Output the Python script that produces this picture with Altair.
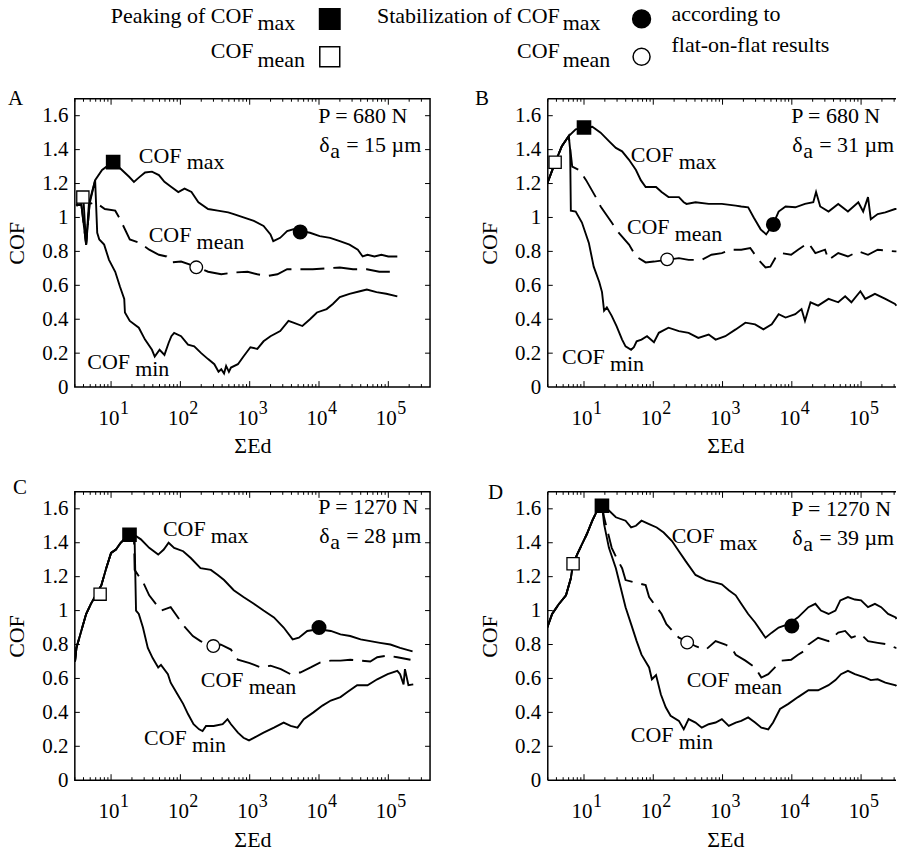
import altair as alt
import pandas as pd

FONT = "Liberation Serif"
H = 289
WIDTH = {"A": 356, "B": 350, "C": 356, "D": 350}          # right panels run into the page edge
XDOM = {"A": [3, 4e5], "B": [3, 3.3e5], "C": [3, 4e5], "D": [3, 3.3e5]}
YDOM = [0, 1.7]

# ---------------- data: x given as log10(ΣEd), y = COF ----------------
A_MAX_E = [0.50, 0.55, 0.60, 0.64, 0.68, 0.77, 0.87, 0.97, 1.04, 1.13, 1.26, 1.33, 1.40, 1.49, 1.59, 1.69, 1.77, 1.87, 1.97, 2.06, 2.16, 2.26, 2.40, 2.54, 2.69, 2.77, 2.91, 3.06, 3.20, 3.30, 3.34, 3.44, 3.54, 3.63, 3.73, 3.87, 4.01, 4.16, 4.30, 4.44, 4.56, 4.63, 4.70, 4.80, 4.90, 5.00, 5.13]
A_MAX_Y = [1.07, 1.12, 1.12, 0.84, 1.08, 1.22, 1.28, 1.31, 1.33, 1.29, 1.24, 1.21, 1.235, 1.265, 1.27, 1.25, 1.21, 1.18, 1.15, 1.17, 1.15, 1.09, 1.05, 1.04, 1.03, 1.02, 1.00, 0.98, 0.95, 0.90, 0.86, 0.88, 0.92, 0.93, 0.92, 0.91, 0.89, 0.88, 0.86, 0.84, 0.81, 0.77, 0.78, 0.77, 0.78, 0.77, 0.77]
A_MEAN_E = [0.50, 0.57, 0.64, 0.69, 0.77, 0.84, 0.91, 1.06, 1.13, 1.27, 1.41, 1.55, 1.69, 1.80, 1.87, 2.01, 2.23, 2.40, 2.59, 2.77, 2.97, 3.11, 3.26, 3.40, 3.54, 3.73, 3.91, 4.11, 4.30, 4.49, 4.69, 4.87, 5.13]
A_MEAN_Y = [1.07, 1.08, 0.84, 1.08, 1.09, 1.07, 1.05, 1.04, 0.99, 0.87, 0.85, 0.81, 0.78, 0.77, 0.735, 0.74, 0.71, 0.68, 0.665, 0.675, 0.68, 0.665, 0.655, 0.665, 0.695, 0.695, 0.695, 0.70, 0.705, 0.695, 0.695, 0.68, 0.68]
A_MIN_E = [0.50, 0.57, 0.64, 0.69, 0.77, 0.80, 0.83, 0.90, 0.97, 1.06, 1.13, 1.19, 1.20, 1.27, 1.40, 1.49, 1.59, 1.63, 1.70, 1.77, 1.83, 1.87, 1.91, 2.01, 2.11, 2.20, 2.30, 2.40, 2.49, 2.55, 2.59, 2.63, 2.66, 2.70, 2.73, 2.83, 2.91, 3.01, 3.11, 3.20, 3.30, 3.44, 3.56, 3.63, 3.76, 3.87, 3.97, 4.11, 4.20, 4.30, 4.44, 4.59, 4.69, 4.83, 4.97, 5.13]
A_MIN_Y = [1.07, 1.08, 0.84, 1.08, 1.22, 0.91, 0.87, 0.84, 0.75, 0.68, 0.59, 0.52, 0.44, 0.39, 0.35, 0.28, 0.22, 0.18, 0.22, 0.19, 0.26, 0.30, 0.32, 0.30, 0.25, 0.24, 0.20, 0.165, 0.135, 0.09, 0.105, 0.08, 0.125, 0.09, 0.115, 0.135, 0.18, 0.235, 0.225, 0.27, 0.30, 0.33, 0.39, 0.38, 0.36, 0.40, 0.44, 0.46, 0.49, 0.53, 0.55, 0.565, 0.575, 0.56, 0.55, 0.535]

B_MAX_E = [0.47, 0.58, 0.68, 0.78, 0.88, 1.00, 1.12, 1.24, 1.36, 1.46, 1.55, 1.65, 1.75, 1.82, 1.89, 2.04, 2.12, 2.22, 2.37, 2.44, 2.48, 2.61, 2.80, 2.99, 3.19, 3.27, 3.37, 3.45, 3.55, 3.63, 3.73, 3.81, 3.91, 4.05, 4.19, 4.31, 4.35, 4.41, 4.53, 4.67, 4.81, 4.96, 5.03, 5.10, 5.14, 5.24, 5.35, 5.49, 5.51]
B_MAX_Y = [1.20, 1.32, 1.42, 1.48, 1.52, 1.53, 1.535, 1.50, 1.45, 1.41, 1.39, 1.34, 1.28, 1.22, 1.18, 1.18, 1.15, 1.12, 1.12, 1.09, 1.08, 1.09, 1.08, 1.08, 1.07, 1.065, 1.06, 1.00, 0.93, 0.90, 0.96, 1.035, 1.065, 1.06, 1.08, 1.09, 1.15, 1.065, 1.035, 1.08, 1.035, 1.09, 1.035, 1.12, 0.99, 1.02, 1.03, 1.05, 1.05]
B_MEAN_E = [0.47, 0.58, 0.68, 0.78, 0.83, 0.93, 1.03, 1.17, 1.24, 1.40, 1.50, 1.65, 1.75, 1.89, 2.01, 2.19, 2.37, 2.51, 2.70, 2.84, 2.99, 3.13, 3.27, 3.40, 3.52, 3.62, 3.69, 3.76, 3.85, 3.99, 4.09, 4.24, 4.34, 4.48, 4.53, 4.67, 4.81, 4.96, 5.10, 5.24, 5.49, 5.51]
B_MEAN_Y = [1.20, 1.32, 1.42, 1.48, 1.30, 1.28, 1.22, 1.12, 1.065, 0.97, 0.91, 0.84, 0.77, 0.735, 0.74, 0.75, 0.76, 0.75, 0.75, 0.78, 0.79, 0.81, 0.81, 0.82, 0.75, 0.705, 0.71, 0.76, 0.79, 0.78, 0.81, 0.85, 0.79, 0.81, 0.75, 0.79, 0.77, 0.80, 0.78, 0.81, 0.80, 0.80]
B_MIN_E = [0.47, 0.58, 0.68, 0.78, 0.80, 0.81, 0.88, 0.97, 1.07, 1.12, 1.14, 1.22, 1.26, 1.29, 1.33, 1.40, 1.47, 1.55, 1.60, 1.68, 1.72, 1.76, 1.83, 1.91, 2.01, 2.08, 2.22, 2.37, 2.51, 2.65, 2.80, 2.90, 3.04, 3.19, 3.33, 3.47, 3.59, 3.71, 3.81, 3.91, 4.05, 4.14, 4.19, 4.27, 4.38, 4.53, 4.67, 4.77, 4.86, 4.99, 5.06, 5.20, 5.35, 5.49, 5.51]
B_MIN_Y = [1.20, 1.32, 1.42, 1.48, 1.40, 1.04, 1.035, 0.97, 0.85, 0.75, 0.71, 0.62, 0.56, 0.45, 0.47, 0.42, 0.36, 0.28, 0.24, 0.22, 0.235, 0.27, 0.28, 0.30, 0.265, 0.32, 0.35, 0.33, 0.32, 0.29, 0.31, 0.28, 0.30, 0.34, 0.38, 0.37, 0.34, 0.37, 0.43, 0.41, 0.43, 0.46, 0.39, 0.50, 0.48, 0.52, 0.50, 0.535, 0.50, 0.565, 0.52, 0.55, 0.52, 0.49, 0.48]

C_MAX_E = [0.48, 0.50, 0.57, 0.64, 0.71, 0.78, 0.86, 0.93, 1.00, 1.07, 1.14, 1.26, 1.33, 1.43, 1.55, 1.68, 1.76, 1.83, 1.91, 2.04, 2.15, 2.29, 2.44, 2.54, 2.63, 2.77, 2.91, 3.06, 3.20, 3.35, 3.49, 3.62, 3.71, 3.83, 3.99, 4.17, 4.31, 4.45, 4.60, 4.74, 4.88, 5.03, 5.17, 5.35]
C_MAX_Y = [0.70, 0.78, 0.88, 0.98, 1.04, 1.09, 1.15, 1.25, 1.34, 1.36, 1.40, 1.447, 1.447, 1.42, 1.37, 1.33, 1.36, 1.40, 1.37, 1.35, 1.31, 1.25, 1.24, 1.21, 1.18, 1.12, 1.08, 1.04, 1.00, 0.96, 0.90, 0.83, 0.84, 0.88, 0.89, 0.88, 0.86, 0.85, 0.83, 0.82, 0.81, 0.80, 0.78, 0.76]
C_MEAN_E = [0.48, 0.50, 0.57, 0.64, 0.71, 0.78, 0.86, 0.93, 1.00, 1.07, 1.14, 1.26, 1.33, 1.34, 1.47, 1.55, 1.72, 1.86, 2.05, 2.18, 2.29, 2.47, 2.58, 2.73, 2.83, 3.00, 3.16, 3.30, 3.45, 3.59, 3.69, 3.73, 3.88, 4.02, 4.17, 4.31, 4.45, 4.60, 4.74, 4.84, 4.99, 5.13, 5.32]
C_MEAN_Y = [0.70, 0.78, 0.88, 0.98, 1.04, 1.09, 1.15, 1.25, 1.34, 1.36, 1.40, 1.447, 1.447, 1.24, 1.16, 1.09, 1.00, 1.02, 0.91, 0.85, 0.82, 0.79, 0.80, 0.77, 0.71, 0.69, 0.665, 0.675, 0.655, 0.625, 0.635, 0.635, 0.665, 0.695, 0.705, 0.705, 0.71, 0.705, 0.70, 0.725, 0.735, 0.725, 0.71]
C_MIN_E = [0.48, 0.50, 0.57, 0.64, 0.71, 0.78, 0.86, 0.93, 1.00, 1.07, 1.14, 1.26, 1.33, 1.34, 1.36, 1.40, 1.46, 1.53, 1.60, 1.68, 1.72, 1.82, 1.86, 1.96, 2.04, 2.11, 2.19, 2.27, 2.32, 2.37, 2.48, 2.61, 2.68, 2.73, 2.83, 2.91, 2.99, 3.06, 3.20, 3.35, 3.49, 3.59, 3.69, 3.78, 3.92, 4.05, 4.17, 4.31, 4.41, 4.55, 4.70, 4.84, 4.99, 5.13, 5.17, 5.22, 5.24, 5.29, 5.36]
C_MIN_Y = [0.70, 0.78, 0.88, 0.98, 1.04, 1.09, 1.15, 1.25, 1.34, 1.36, 1.40, 1.447, 1.447, 1.41, 1.00, 0.98, 0.90, 0.78, 0.72, 0.665, 0.68, 0.625, 0.575, 0.505, 0.45, 0.39, 0.33, 0.30, 0.29, 0.32, 0.32, 0.33, 0.36, 0.33, 0.28, 0.25, 0.235, 0.25, 0.28, 0.31, 0.34, 0.32, 0.31, 0.36, 0.40, 0.44, 0.47, 0.49, 0.52, 0.56, 0.56, 0.595, 0.625, 0.645, 0.625, 0.565, 0.655, 0.56, 0.565]

D_MAX_E = [0.47, 0.54, 0.64, 0.74, 0.81, 0.84, 0.90, 0.97, 1.04, 1.12, 1.19, 1.26, 1.36, 1.46, 1.60, 1.68, 1.75, 1.83, 1.94, 2.05, 2.15, 2.27, 2.37, 2.47, 2.61, 2.76, 2.90, 2.99, 3.09, 3.19, 3.27, 3.37, 3.47, 3.62, 3.71, 3.81, 3.95, 4.09, 4.24, 4.34, 4.42, 4.53, 4.63, 4.70, 4.81, 4.91, 5.00, 5.10, 5.20, 5.29, 5.39, 5.50, 5.51]
D_MAX_Y = [0.90, 0.98, 1.04, 1.09, 1.19, 1.27, 1.33, 1.39, 1.45, 1.53, 1.59, 1.62, 1.59, 1.55, 1.53, 1.49, 1.50, 1.53, 1.51, 1.49, 1.46, 1.41, 1.35, 1.29, 1.21, 1.18, 1.165, 1.155, 1.12, 1.09, 1.04, 0.98, 0.93, 0.84, 0.87, 0.90, 0.92, 0.96, 1.02, 1.04, 1.00, 0.98, 1.00, 1.06, 1.08, 1.065, 1.06, 1.02, 1.04, 1.02, 0.98, 0.96, 0.95]
D_MEAN_E = [0.47, 0.54, 0.64, 0.74, 0.81, 0.84, 0.90, 0.97, 1.04, 1.12, 1.19, 1.26, 1.29, 1.40, 1.47, 1.55, 1.60, 1.89, 1.94, 2.12, 2.19, 2.37, 2.48, 2.61, 2.76, 2.90, 3.04, 3.13, 3.19, 3.33, 3.47, 3.56, 3.66, 3.78, 3.85, 3.99, 4.09, 4.21, 4.24, 4.38, 4.53, 4.67, 4.77, 4.86, 5.00, 5.10, 5.24, 5.39, 5.50, 5.51]
D_MEAN_Y = [0.90, 0.98, 1.04, 1.09, 1.19, 1.27, 1.33, 1.39, 1.45, 1.53, 1.59, 1.62, 1.55, 1.37, 1.31, 1.25, 1.18, 1.15, 1.08, 0.98, 0.92, 0.84, 0.82, 0.79, 0.77, 0.82, 0.80, 0.78, 0.74, 0.705, 0.665, 0.605, 0.625, 0.675, 0.705, 0.71, 0.74, 0.77, 0.80, 0.84, 0.82, 0.87, 0.88, 0.84, 0.86, 0.82, 0.81, 0.80, 0.78, 0.78]
D_MIN_E = [0.47, 0.54, 0.64, 0.74, 0.81, 0.84, 0.90, 0.97, 1.04, 1.12, 1.19, 1.26, 1.29, 1.36, 1.46, 1.53, 1.60, 1.68, 1.76, 1.83, 1.94, 1.98, 2.04, 2.11, 2.18, 2.25, 2.37, 2.44, 2.51, 2.61, 2.70, 2.80, 2.90, 2.99, 3.09, 3.19, 3.27, 3.37, 3.47, 3.56, 3.66, 3.73, 3.83, 3.95, 4.09, 4.24, 4.38, 4.53, 4.63, 4.71, 4.81, 4.91, 5.06, 5.14, 5.24, 5.35, 5.50, 5.51]
D_MIN_Y = [0.90, 0.98, 1.04, 1.09, 1.19, 1.27, 1.33, 1.39, 1.45, 1.53, 1.59, 1.62, 1.51, 1.37, 1.25, 1.135, 1.02, 0.92, 0.82, 0.74, 0.665, 0.595, 0.62, 0.505, 0.43, 0.38, 0.35, 0.30, 0.36, 0.34, 0.31, 0.33, 0.34, 0.36, 0.32, 0.34, 0.35, 0.37, 0.34, 0.31, 0.30, 0.34, 0.42, 0.45, 0.49, 0.53, 0.53, 0.56, 0.59, 0.625, 0.645, 0.625, 0.605, 0.59, 0.595, 0.575, 0.56, 0.555]

CURVES = {
    "A": {"max": (A_MAX_E, A_MAX_Y), "mean": (A_MEAN_E, A_MEAN_Y), "min": (A_MIN_E, A_MIN_Y)},
    "B": {"max": (B_MAX_E, B_MAX_Y), "mean": (B_MEAN_E, B_MEAN_Y), "min": (B_MIN_E, B_MIN_Y)},
    "C": {"max": (C_MAX_E, C_MAX_Y), "mean": (C_MEAN_E, C_MEAN_Y), "min": (C_MIN_E, C_MIN_Y)},
    "D": {"max": (D_MAX_E, D_MAX_Y), "mean": (D_MEAN_E, D_MEAN_Y), "min": (D_MIN_E, D_MIN_Y)},
}

# marker points (log10 ΣEd, COF)
MARKERS = {
    "A": {"peak_max": (1.03, 1.326), "peak_mean": (0.593, 1.12), "stab_max": (3.729, 0.915), "stab_mean": (2.229, 0.706)},
    "B": {"peak_max": (1.00, 1.53), "peak_mean": (0.583, 1.326), "stab_max": (3.734, 0.959), "stab_mean": (2.20, 0.753)},
    "C": {"peak_max": (1.266, 1.447), "peak_mean": (0.842, 1.097), "stab_max": (4.00, 0.90), "stab_mean": (2.475, 0.791)},
    "D": {"peak_max": (1.259, 1.618), "peak_mean": (0.842, 1.276), "stab_max": (4.00, 0.909), "stab_mean": (2.489, 0.812)},
}

# curve labels (log10 ΣEd, COF) of the "COF" word's baseline start
LABELS = {
    "A": {"max": (1.40, 1.324), "mean": (1.543, 0.853), "min": (0.657, 0.106)},
    "B": {"max": (1.676, 1.329), "mean": (1.619, 0.90), "min": (0.683, 0.135)},
    "C": {"max": (1.748, 1.441), "mean": (2.295, 0.547), "min": (1.475, 0.206)},
    "D": {"max": (2.266, 1.40), "mean": (2.482, 0.547), "min": (1.676, 0.224)},
}

LOADS = {"A": "P = 680 N", "B": "P = 680 N", "C": "P = 1270 N", "D": "P = 1270 N"}
DEPTHS = {"A": "= 15 µm", "B": "= 31 µm", "C": "= 28 µm", "D": "= 39 µm"}
EXPONENTS = ["1", "2", "3", "4", "5"]
YTICKS = [0, 0.2, 0.4, 0.6, 0.8, 1, 1.2, 1.4, 1.6]

# ---------------- layout / style constants ----------------
LETTER_POS = {"A": (-67, 6), "B": (-73, 6), "C": (-62, 2), "D": (-60, 7)}
P_BASE = {"A": 24, "B": 24, "C": 22, "D": 24}
LW = 1.9

ys = alt.Scale(domain=YDOM, nice=False, zero=False)

x_axis = alt.Axis(values=[10, 100, 1000, 10000, 100000], labelExpr="'10'",
                  labelAlign="right", labelOffset=8, labelBaseline="alphabetic",
                  labelPadding=37, ticks=False, tickSize=0, domain=False, grid=False,
                  labelFont=FONT, labelFontSize=21, labelColor="black",
                  labelOverlap=False, labelFlush=False,
                  title="ΣEd", titleFont=FONT, titleFontSize=22, titleFontWeight="normal",
                  titleColor="black", titleX=178, titleY=66, titleBaseline="alphabetic",
                  titleAlign="center")
y_axis = alt.Axis(values=YTICKS, format="~g", ticks=False, tickSize=0, domain=False,
                  grid=False, labelPadding=7, labelFont=FONT, labelFontSize=21,
                  labelColor="black", labelOverlap=False, labelFlush=False,
                  title="COF", titleFont=FONT, titleFontSize=22, titleFontWeight="normal",
                  titleColor="black", titleX=-51, titleY=H / 2, titleAngle=270,
                  titleBaseline="alphabetic", titleAlign="center")

# ---------------- tables ----------------
line_rows = []
for p, curves in CURVES.items():
    for name, (es, yv) in curves.items():
        for i, (e, y) in enumerate(zip(es, yv)):
            line_rows.append({"panel": p, "curve": name, "order": i, "x": 10 ** e, "y": y})
lines_df = pd.DataFrame(line_rows)

marker_rows = []
for p, d in MARKERS.items():
    for kind, (e, y) in d.items():
        marker_rows.append({"panel": p, "kind": kind, "x": 10 ** e, "y": y})
markers_df = pd.DataFrame(marker_rows)

label_rows = []
for p, d in LABELS.items():
    for name, (e, y) in d.items():
        label_rows.append({"panel": p, "main": "COF", "sub": name, "x": 10 ** e, "y": y})
labels_df = pd.DataFrame(label_rows)

minor = [m * 10 ** k for k in range(0, 6) for m in range(2, 10) if 3 <= m * 10 ** k <= 3.3e5]
major = [10 ** k for k in range(1, 6)]
minor_df = pd.DataFrame({"x": minor})
major_df = pd.DataFrame({"x": major, "e": EXPONENTS})
ytick_df = pd.DataFrame({"y": YTICKS[1:]})
one = pd.DataFrame({"d": [0]})


def txt(text, x, y, align="left", size=22):
    return alt.Chart(pd.DataFrame({"t": [text]})).mark_text(
        font=FONT, fontSize=size, align=align, baseline="alphabetic", color="black"
    ).encode(x=alt.value(x), y=alt.value(y), text="t:N")


def edge(x, x2, y, y2):
    return alt.Chart(one).mark_rule(color="black", strokeWidth=1.5).encode(
        x=alt.value(x), x2=alt.value(x2), y=alt.value(y), y2=alt.value(y2))


def panel(p):
    W = WIDTH[p]
    xs = alt.Scale(type="log", domain=XDOM[p], nice=False)
    X = lambda: alt.X("x:Q", scale=xs, axis=x_axis)
    Y = lambda: alt.Y("y:Q", scale=ys, axis=y_axis)

    ldf = lines_df[lines_df.panel == p]
    solid = alt.Chart(ldf[ldf.curve != "mean"]).mark_line(
        color="black", strokeWidth=LW, clip=True
    ).encode(x=X(), y=Y(), detail="curve:N", order="order:Q")
    dashed = alt.Chart(ldf[ldf.curve == "mean"]).mark_line(
        color="black", strokeWidth=LW, strokeDash=[24, 9], clip=True
    ).encode(x=X(), y=Y(), order="order:Q")

    mdf = markers_df[markers_df.panel == p]
    m_fsq = alt.Chart(mdf[mdf.kind == "peak_max"]).mark_point(
        shape="square", filled=True, fill="black", stroke="black", size=160, opacity=1
    ).encode(x=X(), y=Y())
    m_osq = alt.Chart(mdf[mdf.kind == "peak_mean"]).mark_point(
        shape="square", filled=True, fill="white", stroke="black", strokeWidth=1.3, size=150, opacity=1
    ).encode(x=X(), y=Y())
    m_fci = alt.Chart(mdf[mdf.kind == "stab_max"]).mark_point(
        shape="circle", filled=True, fill="black", stroke="black", size=170, opacity=1
    ).encode(x=X(), y=Y())
    m_oci = alt.Chart(mdf[mdf.kind == "stab_mean"]).mark_point(
        shape="circle", filled=True, fill="white", stroke="black", strokeWidth=1.3, size=160, opacity=1
    ).encode(x=X(), y=Y())

    lab = labels_df[labels_df.panel == p]
    lab_main = alt.Chart(lab).mark_text(
        font=FONT, fontSize=22, align="left", baseline="alphabetic", color="black"
    ).encode(x=X(), y=Y(), text="main:N")
    lab_sub = alt.Chart(lab).mark_text(
        font=FONT, fontSize=22, align="left", baseline="alphabetic", color="black", dx=48, dy=7
    ).encode(x=X(), y=Y(), text="sub:N")

    # inward ticks
    t_bot_min = alt.Chart(minor_df).mark_rule(color="black", strokeWidth=1).encode(
        x=X(), y=alt.value(H), y2=alt.value(H - 3))
    t_bot_maj = alt.Chart(major_df).mark_rule(color="black", strokeWidth=1).encode(
        x=X(), y=alt.value(H), y2=alt.value(H - 6))
    t_top_min = alt.Chart(minor_df).mark_rule(color="black", strokeWidth=1).encode(
        x=X(), y=alt.value(0), y2=alt.value(3))
    t_top_maj = alt.Chart(major_df).mark_rule(color="black", strokeWidth=1).encode(
        x=X(), y=alt.value(0), y2=alt.value(6))
    t_left = alt.Chart(ytick_df).mark_rule(color="black", strokeWidth=1).encode(
        y=Y(), x=alt.value(0), x2=alt.value(5))

    exps = alt.Chart(major_df).mark_text(
        font=FONT, fontSize=18, align="left", baseline="alphabetic", color="black", dx=9
    ).encode(x=X(), y=alt.value(H + 27), text="e:N")

    lx, ly = LETTER_POS[p]
    pb = P_BASE[p]
    ann = [
        txt(p, lx, ly, size=21),
        txt(LOADS[p], 244, pb),
        txt("δ", 245, pb + 29),
        txt("a", 256, pb + 35),
        txt(DEPTHS[p], 272, pb + 29),
    ]

    layers = [solid, dashed, t_bot_min, t_bot_maj, t_top_min, t_top_maj, t_left,
              exps, lab_main, lab_sub, m_fsq, m_osq, m_fci, m_oci] + ann

    if p in ("A", "C"):
        layers.append(alt.Chart(ytick_df).mark_rule(color="black", strokeWidth=1).encode(
            y=Y(), x=alt.value(W - 5), x2=alt.value(W)))
    else:
        # frame without the right edge, which lies at the page edge
        layers += [edge(0, W - 1, 0, 0), edge(0, W - 1, H, H), edge(0, 0, 0, H)]

    if p == "A":
        for text, x, y, al in [
            ("Peaking of COF", 179, -76, "right"), ("max", 183, -69, "left"),
            ("COF", 179, -41, "right"), ("mean", 183, -32, "left"),
            ("Stabilization of COF", 486, -76, "right"), ("max", 489, -69, "left"),
            ("COF", 486, -41, "right"), ("mean", 489, -32, "left"),
            ("according to", 598, -78, "left"), ("flat-on-flat results", 598, -47, "left"),
        ]:
            layers.append(txt(text, x, y, align=al))
        for shape, fill, x, y, size in [
            ("square", "black", 255.5, -80, 420), ("square", "white", 255.5, -42, 400),
            ("circle", "black", 568, -80, 320), ("circle", "white", 568, -42, 290),
        ]:
            layers.append(alt.Chart(one).mark_point(
                shape=shape, filled=True, fill=fill, stroke="black", strokeWidth=1.5,
                size=size, opacity=1
            ).encode(x=alt.value(x), y=alt.value(y)))
        # invisible anchor fixing the page origin
        layers.append(alt.Chart(one).mark_rule(opacity=0).encode(
            x=alt.value(-74), x2=alt.value(-73), y=alt.value(-97), y2=alt.value(-96)))

    ch = alt.layer(*layers).properties(width=W, height=H)
    if p in ("B", "D"):
        ch = ch.properties(view=alt.ViewBackground(stroke="transparent"))
    return ch


chart = alt.concat(
    panel("A"), panel("B"), panel("C"), panel("D"),
    columns=2, spacing=alt.RowColnumber(row=105, column=118), bounds="flush",
    padding=0, background="white",
).configure_view(stroke="black", strokeWidth=1.5)

chart.save("out.html", embed_options={"renderer": "svg", "actions": False})
